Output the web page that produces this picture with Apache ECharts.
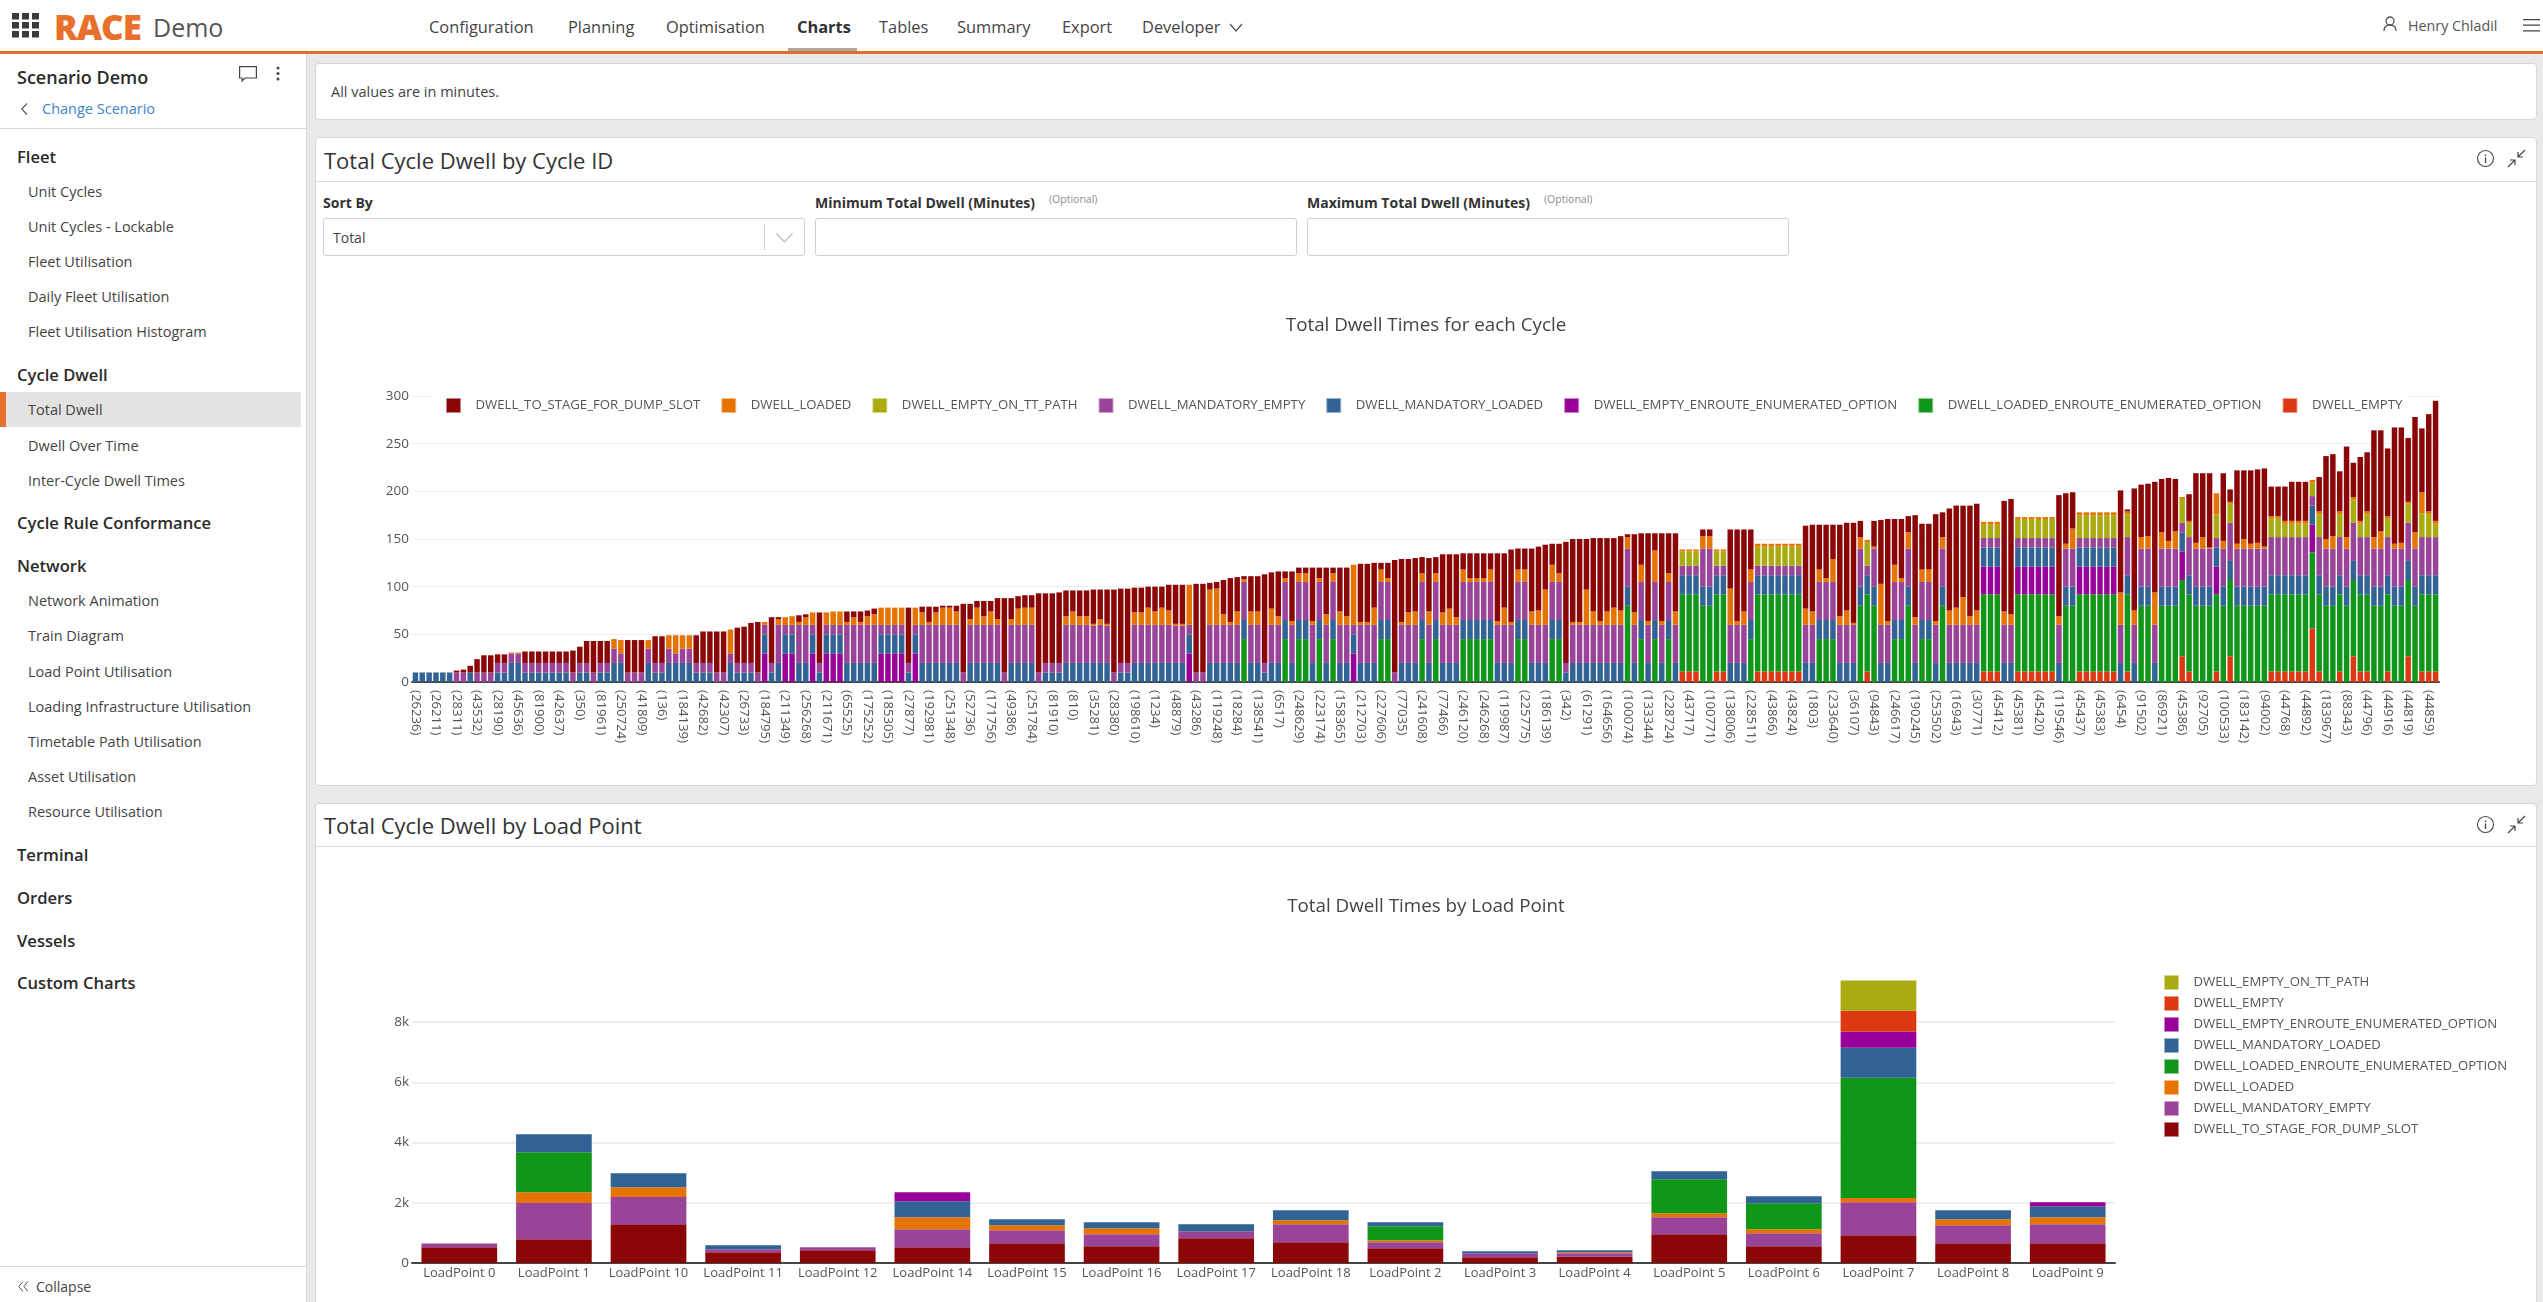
<!DOCTYPE html>
<html><head><meta charset="utf-8"><title>Total Dwell</title>
<script src="https://cdn.jsdelivr.net/npm/echarts@6/dist/echarts.min.js"></script>
<style>
*{box-sizing:border-box}
html,body{margin:0;padding:0;width:2543px;height:1302px;overflow:hidden;background:#e9e9e9;font-family:"Open Sans",sans-serif;color:#333}
.a{position:absolute;white-space:nowrap}
.t{position:absolute;white-space:nowrap;line-height:1;transform:translateY(-50%)}
.card{position:absolute;left:315px;width:2222px;background:#fff;border:1px solid #d6d6d6;border-radius:4px}
.h1{font-size:16.6px;font-weight:600;color:#2b2b2b;left:17px;margin-top:-1px}
.it{font-size:14.5px;color:#444;left:28px}
.nav{font-size:16.4px;color:#444;top:27px}
.bx{position:absolute;background:#fff;border:1px solid #cfcfcf;border-radius:3px;top:218px;height:38px}
.lb{font-size:14px;font-weight:700;color:#333;top:203px}
.op{font-size:10.5px;color:#8d8d8d;top:199px}
.ct{font-size:22px;color:#333;left:324px}
svg{position:absolute;overflow:visible}
</style></head><body>
<div class="a" style="left:0;top:0;width:2543px;height:51px;background:#fff"></div>
<div class="a" style="left:0;top:51px;width:2543px;height:3px;background:#e2702a"></div>
<div class="a" style="left:788px;top:48px;width:69px;height:3px;background:#a9a9a9"></div>
<svg style="left:12px;top:13px" width="27" height="25"><g fill="#3a3a3a"><rect x="0" y="0" width="7" height="6.5"/><rect x="10" y="0" width="7" height="6.5"/><rect x="20" y="0" width="7" height="6.5"/><rect x="0" y="9" width="7" height="6.5"/><rect x="10" y="9" width="7" height="6.5"/><rect x="20" y="9" width="7" height="6.5"/><rect x="0" y="18" width="7" height="6.5"/><rect x="10" y="18" width="7" height="6.5"/><rect x="20" y="18" width="7" height="6.5"/></g></svg>
<div class="t" style="left:54px;top:26px;font-size:35px;font-weight:800;color:#e8702a;letter-spacing:-1px">RACE</div>
<div class="t" style="left:153px;top:27px;font-size:25px;color:#555">Demo</div>
<div class="t nav" style="left:429px">Configuration</div>
<div class="t nav" style="left:568px">Planning</div>
<div class="t nav" style="left:666px">Optimisation</div>
<div class="t nav" style="left:797px;font-weight:700;color:#333">Charts</div>
<div class="t nav" style="left:879px">Tables</div>
<div class="t nav" style="left:957px">Summary</div>
<div class="t nav" style="left:1062px">Export</div>
<div class="t nav" style="left:1142px">Developer</div>
<svg style="left:1229px;top:24px" width="14" height="8"><path d="M1 0 L7 7 L13 0" fill="none" stroke="#555" stroke-width="1.2"/></svg>
<svg style="left:2383px;top:16px" width="14" height="16"><circle cx="7" cy="5" r="4" fill="none" stroke="#555" stroke-width="1.3"/><path d="M1 15 C1 10 4 9 7 9 C10 9 13 10 13 15" fill="none" stroke="#555" stroke-width="1.3"/></svg>
<div class="t" style="left:2408px;top:26px;font-size:14.3px;color:#555">Henry Chladil</div>
<svg style="left:2523px;top:19px" width="17" height="13"><path d="M0 .6H17M0 6.2H17M0 11.8H17" stroke="#444" stroke-width="1.2"/></svg>

<div class="a" style="left:0;top:54px;width:307px;height:1248px;background:#fff;border-right:1px solid #d8d8d8"></div>
<div class="t" style="left:17px;top:77px;font-size:18px;font-weight:600;color:#2b2b2b">Scenario Demo</div>
<svg style="left:239px;top:66px" width="18" height="16"><path d="M.6 .6H17.4V12H6L3 15V12H.6Z" fill="none" stroke="#444" stroke-width="1.2"/></svg>
<svg style="left:276px;top:66px" width="4" height="15"><g fill="#444"><circle cx="2" cy="2" r="1.5"/><circle cx="2" cy="7.5" r="1.5"/><circle cx="2" cy="13" r="1.5"/></g></svg>
<svg style="left:21px;top:103px" width="7" height="12"><path d="M6 .5L.8 6L6 11.5" fill="none" stroke="#555" stroke-width="1.1"/></svg>
<div class="t" style="left:42px;top:109px;font-size:14.5px;color:#3d85c6">Change Scenario</div>
<div class="a" style="left:0;top:128px;width:307px;height:1px;background:#d8d8d8"></div>
<div class="t h1" style="top:158px">Fleet</div>
<div class="t it" style="top:192px">Unit Cycles</div>
<div class="t it" style="top:227px">Unit Cycles - Lockable</div>
<div class="t it" style="top:262px">Fleet Utilisation</div>
<div class="t it" style="top:297px">Daily Fleet Utilisation</div>
<div class="t it" style="top:332px">Fleet Utilisation Histogram</div>
<div class="t h1" style="top:376px">Cycle Dwell</div>
<div class="a" style="left:0;top:392px;width:301px;height:35px;background:#e3e3e3"></div>
<div class="a" style="left:0;top:392px;width:6px;height:35px;background:#e8702a"></div>
<div class="t it" style="top:410px">Total Dwell</div>
<div class="t it" style="top:446px">Dwell Over Time</div>
<div class="t it" style="top:481px">Inter-Cycle Dwell Times</div>
<div class="t h1" style="top:524px">Cycle Rule Conformance</div>
<div class="t h1" style="top:567px">Network</div>
<div class="t it" style="top:601px">Network Animation</div>
<div class="t it" style="top:636px">Train Diagram</div>
<div class="t it" style="top:672px">Load Point Utilisation</div>
<div class="t it" style="top:707px">Loading Infrastructure Utilisation</div>
<div class="t it" style="top:742px">Timetable Path Utilisation</div>
<div class="t it" style="top:777px">Asset Utilisation</div>
<div class="t it" style="top:812px">Resource Utilisation</div>
<div class="t h1" style="top:856px">Terminal</div>
<div class="t h1" style="top:899px">Orders</div>
<div class="t h1" style="top:942px">Vessels</div>
<div class="t h1" style="top:984px">Custom Charts</div>
<div class="a" style="left:0;top:1266px;width:307px;height:1px;background:#d8d8d8"></div>
<svg style="left:18px;top:1281px" width="11" height="11"><path d="M5 .5L.8 5.5L5 10.5M10 .5L5.8 5.5L10 10.5" fill="none" stroke="#555" stroke-width="1"/></svg>
<div class="t" style="left:36px;top:1287px;font-size:14px;color:#444">Collapse</div>

<div class="card" style="top:63px;height:57px"></div>
<div class="t" style="left:331px;top:92px;font-size:14.5px;color:#444">All values are in minutes.</div>
<div class="card" style="top:137px;height:649px"></div>
<div class="a" style="left:316px;top:181px;width:2220px;height:1px;background:#dcdcdc"></div>
<div class="t ct" style="top:160px">Total Cycle Dwell by Cycle ID</div>
<div class="t lb" style="left:323px">Sort By</div>
<div class="bx" style="left:323px;width:482px"></div>
<div class="a" style="left:764px;top:224px;width:1px;height:26px;background:#d0d0d0"></div>
<svg style="left:776px;top:233px" width="17" height="10"><path d="M.5 .5L8.5 9L16.5 .5" fill="none" stroke="#bbb" stroke-width="1.1"/></svg>
<div class="t" style="left:333px;top:238px;font-size:14px;color:#444">Total</div>
<div class="t lb" style="left:815px">Minimum Total Dwell (Minutes)</div>
<div class="t op" style="left:1049px">(Optional)</div>
<div class="bx" style="left:815px;width:482px"></div>
<div class="t lb" style="left:1307px">Maximum Total Dwell (Minutes)</div>
<div class="t op" style="left:1544px">(Optional)</div>
<div class="bx" style="left:1307px;width:482px"></div>
<svg style="left:2477px;top:150px" width="18" height="18"><circle cx="8.5" cy="8.5" r="8" fill="none" stroke="#444" stroke-width="1.1"/><path d="M8.5 7.5V13M8.5 4.5V6" stroke="#444" stroke-width="1.3"/></svg>
<svg style="left:2507px;top:149px" width="19" height="19"><path d="M18 1L11 8M11 3V8H16M1 18L8 11M3 11H8V16" fill="none" stroke="#444" stroke-width="1.2"/></svg>
<div class="card" style="top:803px;height:520px"></div>
<div class="a" style="left:316px;top:846px;width:2220px;height:1px;background:#dcdcdc"></div>
<div class="t ct" style="top:825px">Total Cycle Dwell by Load Point</div>
<svg style="left:2477px;top:816px" width="18" height="18"><circle cx="8.5" cy="8.5" r="8" fill="none" stroke="#444" stroke-width="1.1"/><path d="M8.5 7.5V13M8.5 4.5V6" stroke="#444" stroke-width="1.3"/></svg>
<svg style="left:2507px;top:815px" width="19" height="19"><path d="M18 1L11 8M11 3V8H16M1 18L8 11M3 11H8V16" fill="none" stroke="#444" stroke-width="1.2"/></svg>

<div id="chartCycle" class="a" style="left:315px;top:182px;width:2222px;height:603px"></div>
<div id="chartLoad" class="a" style="left:315px;top:847px;width:2222px;height:455px"></div>

<script>
// ---- Chart 1: every third cycle label is shown on the axis
const cycleLabels = [26236,26211,28311,43532,28190,45636,81900,42637,350,81961,250724,41809,136,184139,42682,42307,26733,184795,211349,256268,
211671,65525,175252,185305,27877,192981,251348,52736,171756,49386,251784,81910,810,35281,28380,198610,1234,48879,43286,119248,18284,138541,6517,
248629,223174,158365,212703,227606,77035,241608,77466,246120,246268,119987,225775,186139,342,61291,164656,100074,133344,228724,43717,100771,138006,228511,43866,
43824,1803,233640,36107,94843,246617,190245,253502,16943,30771,45412,45381,45420,119546,45437,45383,6454,91502,86921,45386,92705,100533,183142,94002,
44768,44892,183967,88343,44796,44916,44819,44859];

const cycleEmpty = [
0,0,0,0,0,0,0,0,0,0, 0,0,0,0,0,0,0,0,0,0, 0,0,0,0,0,0,0,0,0,0, 0,0,0,0,0,0,0,0,0,0, 0,0,0,0,0,0,0,0,0,0,
0,0,0,0,0,0,0,0,0,0, 0,0,0,0,0,0,0,0,0,0, 0,0,0,0,0,0,0,0,0,0, 0,0,0,0,0,0,0,0,0,0, 0,0,0,0,0,0,0,0,0,0,
0,0,0,0,0,0,0,0,0,0, 0,0,0,0,0,0,0,0,0,0, 0,0,0,0,0,0,0,0,0,0, 0,0,0,0,0,0,0,0,0,0, 0,0,0,0,0,0,0,0,0,0,
0,0,0,0,0,0,0,0,0,0, 0,0,0,0,0,0,0,0,0,0, 0,0,0,0,0,0,0,0,0,0,
0,0,0,0,0,11,11,11,0,0, 11,11,0,0,0,0,11,11,11,11, 11,11,11,0,0,0,0,0,0,0, 0,0,11,0,0,0,0,0,0,0, 0,0,0,0,0,0,0,0,0,11,
11,11,0,0,11,11,11,11,11,11, 0,0,0,11,11,11,11,11,11,0, 11,0,0,0,0,0,0,0,27,11, 0,0,0,11,0,27,0,0,0,0, 0,11,11,11,11,11,11,56,11,0,
0,11,0,27,11,11,0,0,11,0, 0,27,0,11,11,11];

const cycleLoadedEnroute = [
0,0,0,0,0,0,0,0,0,0, 0,0,0,0,0,0,0,0,0,0, 0,0,0,0,0,0,0,0,0,0, 0,0,0,0,0,0,0,0,0,0, 0,0,0,0,0,0,0,0,0,0,
0,0,0,0,0,0,0,0,0,0, 0,0,0,0,0,0,0,0,0,0, 0,0,0,0,0,0,0,0,0,0, 0,0,0,0,0,0,0,0,0,0, 0,0,0,0,0,0,0,0,0,0,
0,0,0,0,0,0,0,0,0,0, 0,0,0,0,0,0,0,0,0,0,
0,45,0,0,0,0,0,45,0,45, 45,0,45,0,45,0,0,0,0,0, 0,45,45,0,0,0,0,45,0,45, 0,0,0,45,45,45,45,45,0,0, 0,45,45,0,0,0,45,45,0,0,
0,0,0,0,0,0,0,80,0,45, 0,45,0,45,0,81,81,81,80,80, 81,81,0,0,0,45,81,81,81,81, 81,81,81,0,0,45,45,45,0,0, 0,80,81,80,0,0,45,45,80,0,
45,45,0,80,0,0,0,0,0,81, 81,81,0,0,81,81,81,81,81,81, 0,80,80,81,81,81,81,81,81,0, 81,0,80,80,0,80,80,80,80,81, 80,80,80,81,80,80,80,80,80,80,
80,81,81,81,81,81,81,80,81,80, 80,81,80,80,81,81,80,80,81,80, 80,80,80,81,81,81];

const cycleEmptyEnroute = [
0,0,0,0,0,0,0,0,0,0, 0,0,0,0,0,0,0,0,0,0, 0,0,0,0,0,0,0,0,0,0, 0,0,0,0,0,0,0,0,0,0, 0,0,0,0,0,0,0,0,0,0,
0,30,0,0,30,30,0,0,30,0, 30,30,30,0,0,0,0,0,30,30, 30,30,0,30,0,0,0,0,0,0, 0,0,0,0,0,0,0,0,0,0, 0,0,0,0,0,0,0,0,0,0,
0,0,0,0,0,0,0,0,0,0, 0,0,0,30,0,0,0,0,0,0, 0,0,0,0,0,0,0,0,0,0, 0,0,0,0,0,0,0,30,0,0, 0,0,0,0,0,0,0,0,0,0,
0,0,0,0,0,0,0,0,0,0, 0,0,0,0,0,0,0,0,0,0, 0,0,0,0,0,0,0,0,0,0, 0,0,0,0,0,0,0,0,0,0, 0,0,0,0,0,0,0,0,0,0,
0,0,0,0,0,0,0,0,0,0, 0,0,0,0,0,0,0,0,0,0, 0,0,0,0,0,0,0,0,0,29,
29,29,0,0,29,29,29,29,29,29, 0,0,0,29,29,29,29,29,29,0, 0,0,0,0,0,0,0,0,30,0, 0,0,0,29,0,0,0,0,0,0, 0,0,0,0,0,0,0,29,0,0,
0,0,0,0,0,0,0,0,0,0, 0,0,0,0,0,0];

const cycleMandatoryLoaded = [
10,10,10,10,10,10,0,0,10,0, 0,0,10,10,20,20,10,10,10,10, 10,10,10,0,10,10,0,10,10,20, 20,0,0,0,20,10,10,20,20,20, 20,10,10,10,0,0,20,10,10,10,
0,20,10,20,20,20,20,20,20,10, 20,20,20,20,20,20,20,20,20,20, 20,20,10,20,20,20,20,20,20,20, 0,20,20,20,20,20,0,20,20,20, 20,0,10,10,10,20,20,20,20,20,
20,20,0,10,10,20,20,20,20,20, 20,20,20,20,0,0,20,20,20,20, 20,20,20,20,10,20,20,20,20,20, 20,20,20,20,20,20,20,20,20,20, 20,20,20,0,20,20,20,20,20,20,
20,20,20,20,20,20,20,20,20,20, 20,20,20,20,20,20,20,20,10,20, 20,20,20,20,20,20,20,20,20,20, 20,20,20,20,20,20,20,20,20,20, 20,20,20,20,20,20,20,20,20,20,
20,20,20,20,20,20,20,20,20,20, 20,20,20,20,20,20,20,20,20,20, 20,20,20,20,20,20,20,20,20,20, 20,20,20,20,20,20,20,20,20,20, 20,20,20,20,20,20,20,20,20,20,
20,20,20,20,20,20,20,20,20,20, 20,20,20,20,20,20,20,20,20,20, 20,20,20,20,20,20,20,20,20,20, 20,20,20,20,20,20,20,20,20,20, 20,20,20,20,20,20,20,20,20,20,
20,20,20,20,20,20,20,20,20,20, 20,20,20,20,20,20];

const cycleMandatoryEmpty = [
0,0,0,0,0,0,10,10,0,10, 10,10,10,10,10,10,10,10,10,10, 10,10,10,10,10,10,10,10,10,15, 10,10,10,10,15,10,10,15,10,15, 15,10,10,10,10,10,10,10,10,10,
10,10,10,40,10,10,40,40,10,10, 10,10,10,40,40,40,40,40,10,10, 10,10,10,10,40,40,40,40,40,40, 10,40,40,40,40,40,10,40,40,40, 40,10,10,10,10,40,40,40,40,39,
40,39,10,10,10,40,40,40,40,40, 40,39,39,10,10,10,40,40,40,40, 40,40,40,40,10,40,40,40,40,40, 40,40,40,40,40,40,40,10,40,40, 40,40,40,10,40,40,40,40,40,40,
40,40,40,40,40,40,40,40,40,40, 40,40,40,40,40,40,40,40,10,40, 40,40,40,40,40,40,40,40,40,40, 40,40,40,40,40,10,10,10,40,40, 10,10,40,40,40,40,10,10,10,10,
10,10,10,40,40,40,40,40,40,40, 40,40,10,40,40,40,40,40,40,40, 40,40,40,40,40,40,40,40,40,10, 10,10,40,40,10,10,10,10,10,10, 40,40,40,10,10,10,10,10,10,40,
40,40,40,40,40,40,40,40,10,40, 40,40,40,10,40,40,40,40,40,40, 40,40,40,40,40,40,40,10,40,40, 40,40,40,40,40,40,40,40,40,40, 40,40,40,40,40,40];

const cycleEmptyOnPath = [
0,0,0,0,0,0,0,0,0,0, 0,0,0,0,0,0,0,0,0,0, 0,0,0,0,0,0,0,0,0,0, 0,0,0,0,0,0,0,0,0,0, 0,0,0,0,0,0,0,0,0,0,
0,0,0,0,0,0,0,0,0,0, 0,0,0,0,0,0,0,0,0,0, 0,0,0,0,0,0,0,0,0,0, 0,0,0,0,0,0,0,0,0,0, 0,0,0,0,0,0,0,0,0,0,
0,0,0,0,0,0,0,0,0,0, 0,0,0,0,0,0,0,0,0,0, 0,0,0,0,0,0,0,0,0,0, 0,0,0,0,0,0,0,0,0,0, 0,0,0,0,0,0,0,0,0,0,
0,0,0,0,0,0,0,0,0,0, 0,0,0,0,0,0,0,0,0,0, 0,0,0,0,0,0,0,0,0,0,
0,0,0,0,0,15,15,15,0,0, 15,15,0,0,0,0,20,20,20,20, 20,20,20,0,0,0,0,0,0,0, 0,0,25,0,0,0,0,0,0,0, 0,0,0,0,0,0,0,0,0,14,
14,14,0,0,20,20,20,20,20,20, 0,0,0,24,24,24,24,24,24,0, 24,0,0,0,0,0,0,0,25,14, 0,0,0,25,0,20,0,0,0,0, 0,20,20,14,14,14,14,14,24,0,
0,24,0,25,14,24,0,0,20,0, 0,20,0,25,24,14];

const cycleLoaded = [
0,0,0,0,0,0,0,0,0,0, 0,0,0,0,1,1,0,0,0,0, 0,0,0,0,0,0,0,0,0,10, 14,0,0,0,9,0,0,14,19,14, 14,0,0,0,0,0,25,0,0,0,
0,3,0,6,8,9,3,8,13,0, 13,14,14,3,8,3,9,11,18,18, 18,18,0,18,13,3,13,18,18,14, 0,6,18,9,14,6,0,6,17,18, 18,0,0,0,0,9,14,9,9,2,
6,2,0,0,0,13,13,18,14,18, 15,2,2,42,0,0,37,38,11,3, 14,3,14,14,0,17,9,4,4,9, 9,4,4,11,9,14,9,63,3,3, 18,13,4,0,3,13,14,9,14,9,
13,17,8,13,4,4,4,13,4,18, 3,13,13,14,15,37,18,9,0,3, 3,37,14,4,14,18,15,12,13,18, 4,33,4,9,14,2,2,2,13,13, 2,2,38,4,14,13,3,3,3,3,
3,3,3,17,14,13,4,24,9,15, 2,12,2,2,43,4,18,4,17,8, 13,13,4,12,15,18,29,9,15,3, 3,3,14,11,2,2,2,2,2,2, 9,5,21,3,3,3,3,3,3,34,
3,15,12,13,34,17,8,18,2,3, 6,12,1,22,8,2,5,10,5,6, 2,2,2,3,3,3,3,3,3,10, 13,3,12,2,3,3,12,18,2,5, 6,2,17,22,3,3];

const cycleToStage = [
0,0,0,0,0,0,2,3,7,14, 18,18,9,9,0,0,12,12,12,12, 12,12,12,23,17,23,33,23,23,0, 0,34,34,34,0,28,28,0,0,0, 0,29,33,33,43,43,0,37,38,42,
53,0,48,2,0,0,7,3,0,53, 0,0,0,11,6,11,6,6,0,0, 0,0,58,0,6,16,6,2,2,6, 72,16,7,16,11,22,78,22,13,13, 13,83,73,73,74,27,22,27,27,36,
31,36,87,78,78,26,26,22,26,22, 27,41,41,0,93,93,7,7,36,46, 36,3,37,37,93,38,47,7,52,6, 6,56,11,49,6,46,51,0,61,61, 47,7,16,118,66,56,56,17,56,17,
61,57,66,17,26,26,26,17,71,57, 76,22,22,66,67,47,22,31,127,87, 87,53,77,87,77,73,78,3,82,33, 92,18,92,42,82,0,0,0,7,7, 0,0,62,96,86,42,0,0,0,0,
0,0,0,87,91,47,56,36,96,92, 105,17,0,27,67,107,48,62,17,107, 48,48,112,26,107,107,96,116,112,0, 0,0,116,121,0,0,0,0,0,0, 127,53,38,0,0,0,0,0,0,107,
2,128,55,55,116,56,66,55,0,28, 73,67,78,0,71,13,77,72,77,77, 82,31,31,36,41,41,41,0,36,87, 86,42,95,36,67,62,112,106,71,122, 121,67,121,67,102,126];

// ---- Chart 2
const loadPoints = ['LoadPoint 0','LoadPoint 1','LoadPoint 10','LoadPoint 11','LoadPoint 12','LoadPoint 14','LoadPoint 15','LoadPoint 16','LoadPoint 17','LoadPoint 18','LoadPoint 2','LoadPoint 3','LoadPoint 4','LoadPoint 5','LoadPoint 6','LoadPoint 7','LoadPoint 8','LoadPoint 9'];
const lpToStage        = [520,790,1290,355,420,520,655,555,820,690,490,190,220,955,555,920,655,655];
const lpMandatoryEmpty = [130,1200,900,100,100,600,435,400,235,600,200,130,100,565,435,1100,600,635];
const lpLoaded         = [0,360,330,0,0,400,165,200,0,130,65,0,35,135,130,135,200,230];
const lpLoadedEnroute  = [0,1330,0,0,0,0,0,0,0,0,465,0,0,1130,865,3995,0,0];
const lpMandatoryLoaded= [0,600,465,135,0,530,200,200,235,335,135,70,65,265,235,1000,300,365];
const lpEmptyEnroute   = [0,0,0,0,0,300,0,0,0,0,0,0,0,0,0,530,0,135];
const lpEmpty          = [0,0,0,0,0,0,0,0,0,0,0,0,0,0,0,700,0,0];
const lpEmptyOnPath    = [0,0,0,0,0,0,0,0,0,0,0,0,0,0,0,1000,0,0];

const colors = {
  DWELL_TO_STAGE_FOR_DUMP_SLOT:'#8b0707', DWELL_LOADED:'#e67300', DWELL_EMPTY_ON_TT_PATH:'#aaaa11',
  DWELL_MANDATORY_EMPTY:'#994499', DWELL_MANDATORY_LOADED:'#316395', DWELL_EMPTY_ENROUTE_ENUMERATED_OPTION:'#990099',
  DWELL_LOADED_ENROUTE_ENUMERATED_OPTION:'#109618', DWELL_EMPTY:'#dc3912'
};
const rims = {
  DWELL_TO_STAGE_FOR_DUMP_SLOT:'#c58383', DWELL_LOADED:'#f3b980', DWELL_EMPTY_ON_TT_PATH:'#d5d588',
  DWELL_MANDATORY_EMPTY:'#cca2cc', DWELL_MANDATORY_LOADED:'#98b1ca', DWELL_EMPTY_ENROUTE_ENUMERATED_OPTION:'#cc80cc',
  DWELL_LOADED_ENROUTE_ENUMERATED_OPTION:'#88cb8c', DWELL_EMPTY:'#ee9c89'
};
const FONT = '"Open Sans", sans-serif';
const legendData = names => names.map(n => ({name:n, itemStyle:{borderColor:rims[n], borderWidth:1}}));
const bar = (name,data,width) => ({type:'bar',name,data,stack:'dwell',barWidth:width,animation:false,
  itemStyle:{color:colors[name]},emphasis:{disabled:true}});

const cycleCategories = [];
cycleToStage.forEach((_,i) => cycleCategories.push(i%3===0 ? '('+cycleLabels[i/3]+')' : ''));

const c1 = echarts.init(document.getElementById('chartCycle'),null,{renderer:'canvas'});
c1.setOption({
  animation:false,
  title:{text:'Total Dwell Times for each Cycle',left:'center',top:129,textStyle:{fontFamily:FONT,fontSize:18.8,fontWeight:'normal',color:'#444'}},
  legend:{left:116,top:212,padding:[4,7,3,15],itemGap:21,itemWidth:14,itemHeight:14,icon:'rect',backgroundColor:'#fff',
    textStyle:{fontFamily:FONT,fontSize:13.2,color:'#555',padding:[0,0,0,10]},
    selectedMode:false,
    data:legendData(['DWELL_TO_STAGE_FOR_DUMP_SLOT','DWELL_LOADED','DWELL_EMPTY_ON_TT_PATH','DWELL_MANDATORY_EMPTY','DWELL_MANDATORY_LOADED','DWELL_EMPTY_ENROUTE_ENUMERATED_OPTION','DWELL_LOADED_ENROUTE_ENUMERATED_OPTION','DWELL_EMPTY'])},
  grid:{left:97,right:98,top:214,bottom:103},
  xAxis:{type:'category',data:cycleCategories,axisTick:{show:false},
    axisLine:{lineStyle:{color:'#444',width:2}},
    axisLabel:{interval:2,rotate:-90,fontFamily:FONT,fontSize:13.2,color:'#555',margin:8,padding:[10,0,0,0]}},
  yAxis:{type:'value',min:0,max:300,interval:50,axisLine:{show:false},axisTick:{show:false},
    splitLine:{lineStyle:{color:'#eeeeee',width:1}},
    axisLabel:{fontFamily:FONT,fontSize:13.5,color:'#555',margin:3}},
  series:[
    bar('DWELL_EMPTY',cycleEmpty,'80%'),
    bar('DWELL_LOADED_ENROUTE_ENUMERATED_OPTION',cycleLoadedEnroute,'80%'),
    bar('DWELL_EMPTY_ENROUTE_ENUMERATED_OPTION',cycleEmptyEnroute,'80%'),
    bar('DWELL_MANDATORY_LOADED',cycleMandatoryLoaded,'80%'),
    bar('DWELL_MANDATORY_EMPTY',cycleMandatoryEmpty,'80%'),
    bar('DWELL_EMPTY_ON_TT_PATH',cycleEmptyOnPath,'80%'),
    bar('DWELL_LOADED',cycleLoaded,'80%'),
    bar('DWELL_TO_STAGE_FOR_DUMP_SLOT',cycleToStage,'80%')
  ]
});

const c2 = echarts.init(document.getElementById('chartLoad'),null,{renderer:'canvas'});
c2.setOption({
  animation:false,
  title:{text:'Total Dwell Times by Load Point',left:'center',top:45,textStyle:{fontFamily:FONT,fontSize:18.8,fontWeight:'normal',color:'#444'}},
  legend:{orient:'vertical',left:1849,top:128,padding:0,itemGap:6,itemWidth:14,itemHeight:14,icon:'rect',
    textStyle:{fontFamily:FONT,fontSize:13.2,color:'#555',padding:[0,0,0,10]},
    selectedMode:false,
    data:legendData(['DWELL_EMPTY_ON_TT_PATH','DWELL_EMPTY','DWELL_EMPTY_ENROUTE_ENUMERATED_OPTION','DWELL_MANDATORY_LOADED','DWELL_LOADED_ENROUTE_ENUMERATED_OPTION','DWELL_LOADED','DWELL_MANDATORY_EMPTY','DWELL_TO_STAGE_FOR_DUMP_SLOT'])},
  grid:{left:97,right:422,top:133,bottom:39},
  xAxis:{type:'category',data:loadPoints,axisTick:{show:false},
    axisLine:{lineStyle:{color:'#444',width:2}},
    axisLabel:{interval:0,fontFamily:FONT,fontSize:13,color:'#555',margin:4}},
  yAxis:{type:'value',min:0,max:9400,interval:2000,axisLine:{show:false},axisTick:{show:false},
    splitLine:{showMaxLine:false,lineStyle:{color:'#eeeeee',width:2}},
    axisLabel:{showMaxLabel:false,fontFamily:FONT,fontSize:13.5,color:'#555',margin:3,
      formatter:v=>v===0?'0':(v/1000)+'k'}},
  series:[
    bar('DWELL_TO_STAGE_FOR_DUMP_SLOT',lpToStage,'80%'),
    bar('DWELL_MANDATORY_EMPTY',lpMandatoryEmpty,'80%'),
    bar('DWELL_LOADED',lpLoaded,'80%'),
    bar('DWELL_LOADED_ENROUTE_ENUMERATED_OPTION',lpLoadedEnroute,'80%'),
    bar('DWELL_MANDATORY_LOADED',lpMandatoryLoaded,'80%'),
    bar('DWELL_EMPTY_ENROUTE_ENUMERATED_OPTION',lpEmptyEnroute,'80%'),
    bar('DWELL_EMPTY',lpEmpty,'80%'),
    bar('DWELL_EMPTY_ON_TT_PATH',lpEmptyOnPath,'80%')
  ]
});
</script>
</body></html>
